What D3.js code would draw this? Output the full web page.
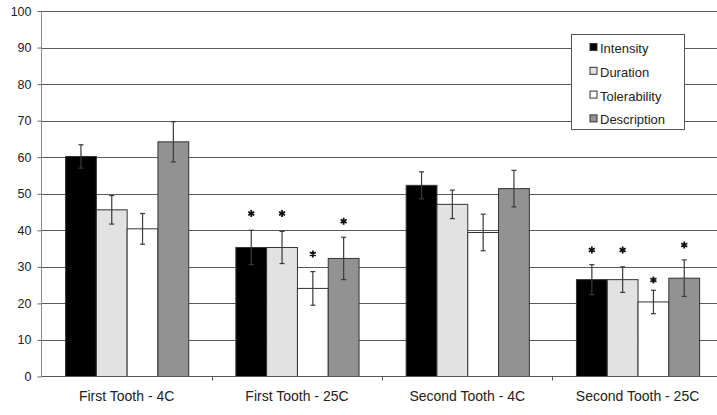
<!DOCTYPE html>
<html><head><meta charset="utf-8">
<script src="https://cdn.jsdelivr.net/npm/d3@7"></script>
<style>body{margin:0;background:#fff}svg{display:block;font-family:Arial,"Liberation Sans",sans-serif}</style>
</head><body><svg id="c" width="717" height="415"></svg>
<script>
const categories = ["First Tooth - 4C","First Tooth - 25C","Second Tooth - 4C","Second Tooth - 25C"];
const seriesNames = ["Intensity","Duration","Tolerability","Description"];
const seriesColors = ["#000000","#e2e2e2","#ffffff","#929292"];
const intensity    = [60.2, 35.3, 52.3, 26.5];
const duration     = [45.6, 35.3, 47.1, 26.5];
const tolerability = [40.4, 24.1, 39.4, 20.4];
const description  = [64.2, 32.3, 51.4, 26.9];
const intensityErr    = [3.2, 4.7, 3.7, 4.1];
const durationErr     = [3.9, 4.4, 3.9, 3.5];
const tolerabilityErr = [4.2, 4.6, 5.0, 3.2];
const descriptionErr  = [5.5, 5.8, 5.0, 5.0];
// asterisk positions (value units); null = no asterisk
const intensityStar    = [null, 44.6, null, 34.6];
const durationStar     = [null, 44.6, null, 34.6];
const tolerabilityStar = [null, 33.5, null, 26.4];
const descriptionStar  = [null, 42.5, null, 36.0];
const yTicks = [0,10,20,30,40,50,60,70,80,90,100];

const values = [intensity, duration, tolerability, description];
const errs = [intensityErr, durationErr, tolerabilityErr, descriptionErr];
const stars = [intensityStar, durationStar, tolerabilityStar, descriptionStar];

const svg = d3.select("#c");
const x0 = d3.scaleBand().domain(categories).range([41.5, 722.7]).padding(0);
const x1 = d3.scaleBand().domain(seriesNames).range([0, x0.bandwidth()]).paddingInner(0).paddingOuter(0.765);
const y = d3.scaleLinear().domain([0,100]).range([376.5, 11]);

// gridlines
svg.append("g").selectAll("line").data(yTicks.filter(d=>d>0)).join("line")
  .attr("x1", 41.5).attr("x2", 717)
  .attr("y1", d=>Math.round(y(d))+0.5).attr("y2", d=>Math.round(y(d))+0.5)
  .attr("stroke", "#5a5a5a").attr("stroke-width", 1);

// y axis
const yAxis = d3.axisLeft(y).tickValues(yTicks).tickSize(4).tickPadding(6).tickFormat(d3.format("d"));
const gy = svg.append("g").attr("transform", "translate(41.5,0)").call(yAxis);
gy.select(".domain").attr("stroke", "#8a8a8a").attr("d", `M0,${y(100)}V${y(0)}`);
gy.selectAll(".tick line").attr("stroke", "#6a6a6a");
gy.selectAll(".tick text").attr("font-size", 12.5).attr("fill", "#222").style("font-family","Arial,'Liberation Sans',sans-serif");

// bars
const rows = [];
categories.forEach((c, ci) => seriesNames.forEach((s, si) => rows.push({c, s, si, v: values[si][ci], e: errs[si][ci], st: stars[si][ci]})));
const bw = x1.bandwidth();
svg.append("g").selectAll("rect").data(rows).join("rect")
  .attr("x", d => x0(d.c) + x1(d.s) + 0.5)
  .attr("y", d => y(d.v))
  .attr("width", bw)
  .attr("height", d => y(0) - y(d.v))
  .attr("fill", d => seriesColors[d.si])
  .attr("stroke", "#333").attr("stroke-width", 1);

// error bars
const eg = svg.append("g").attr("stroke", "#3a3a3a").attr("stroke-width", 1.2);
rows.forEach(d => {
  const cx = x0(d.c) + x1(d.s) + bw/2 + 0.5;
  eg.append("line").attr("x1", cx).attr("x2", cx).attr("y1", y(d.v + d.e)).attr("y2", y(d.v - d.e));
  [d.v + d.e, d.v - d.e].forEach(t => eg.append("line").attr("x1", cx-2.5).attr("x2", cx+2.5).attr("y1", y(t)).attr("y2", y(t)));
});

// asterisks
const starSym = d3.symbol().type(d3.symbolAsterisk || d3.symbolCross).size(34);
svg.append("g").selectAll("path").data(rows.filter(d => d.st != null)).join("path")
  .attr("transform", d => `translate(${x0(d.c) + x1(d.s) + bw/2 + 0.5},${y(d.st)})`)
  .attr("d", starSym).attr("stroke", "#111").attr("stroke-width", 1.8).attr("fill", "none");

// x baseline
svg.append("line").attr("x1", 41.5).attr("x2", 717).attr("y1", y(0)).attr("y2", y(0)).attr("stroke", "#555");
// x axis
const xAxis = d3.axisBottom(x0).tickSize(0).tickPadding(0);
const gx = svg.append("g").attr("transform", `translate(0,${y(0)})`).call(xAxis);
gx.select(".domain").remove();
gx.selectAll(".tick text").attr("y", 24).attr("dy", 0).attr("font-size", 14).attr("fill", "#222")
  .style("font-family","Arial,'Liberation Sans',sans-serif");
// category boundary ticks
svg.append("g").selectAll("line").data(categories.slice(1)).join("line")
  .attr("x1", d => Math.round(x0(d))+0.5).attr("x2", d => Math.round(x0(d))+0.5)
  .attr("y1", y(0)).attr("y2", y(0)+4).attr("stroke", "#555");

// legend
const lg = svg.append("g").attr("transform", "translate(571.5,34.5)");
lg.append("rect").attr("width", 113).attr("height", 95).attr("fill", "#fff").attr("stroke", "#555");
seriesNames.forEach((s, i) => {
  const row = lg.append("g").attr("transform", `translate(0,${14 + i*23.8})`);
  row.append("rect").attr("x", 18.5).attr("y", -5).attr("width", 7).attr("height", 7)
    .attr("fill", seriesColors[i]).attr("stroke", "#333");
  row.append("text").attr("x", 28.5).attr("y", 4.5).attr("font-size", 13).attr("fill", "#222").text(s);
});
</script></body></html>
